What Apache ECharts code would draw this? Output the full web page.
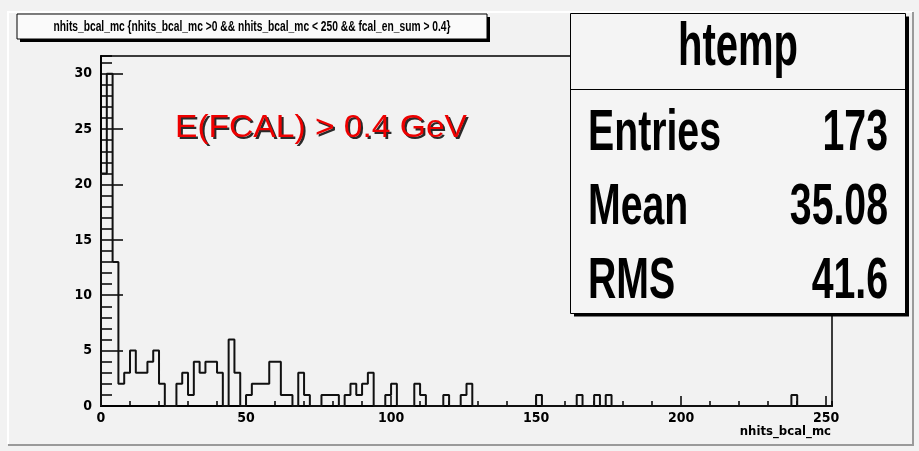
<!DOCTYPE html>
<html>
<head>
<meta charset="utf-8">
<script src="https://cdn.jsdelivr.net/npm/echarts@6/dist/echarts.min.js"></script>
<style>
  html, body { margin: 0; padding: 0; background: #f2f2f2; }
  #main { width: 919px; height: 451px; }
</style>
</head>
<body>
<div id="main"></div>
<script>
// histogram htemp: bins of width 2 from 0 to 252
var binWidth = 2;
var xMin = 0, xMax = 252;
var yMax = 31.6;
var counts = [
    21, 30, 13, 2, 3, 5, 3, 3, 4, 5,
    2, 0, 0, 2, 3, 1, 4, 3, 4, 4,
    3, 0, 6, 3, 0, 1, 2, 2, 2, 4,
    4, 1, 1, 0, 3, 1, 0, 0, 1, 1,
    1, 0, 1, 2, 1, 2, 3, 0, 0, 1,
    2, 0, 0, 0, 2, 1, 0, 0, 0, 1,
    0, 0, 1, 2, 0, 0, 0, 0, 0, 0,
    0, 0, 0, 0, 0, 1, 0, 0, 0, 0,
    0, 0, 1, 0, 0, 1, 0, 1, 0, 0,
    0, 0, 0, 0, 0, 0, 0, 0, 0, 0,
    0, 0, 0, 0, 0, 0, 0, 0, 0, 0,
    0, 0, 0, 0, 0, 0, 0, 0, 0, 1,
    0, 0, 0, 0, 0, 0
];
var titleText = 'nhits_bcal_mc {nhits_bcal_mc >0 && nhits_bcal_mc < 250 && fcal_en_sum > 0.4}';
var xTitle = 'nhits_bcal_mc';
var cutText = 'E(FCAL) > 0.4 GeV';
var statsName = 'htemp';
var statsLabels = ['Entries', 'Mean', 'RMS'];
var statsValues = ['173', '35.08', '41.6'];

var ctx = document.createElement('canvas').getContext('2d');
function fitScale(text, font, width) {
    ctx.font = font;
    return width / ctx.measureText(text).width;
}

function histPoints() {
    var pts = [[xMin, 0]];
    for (var i = 0; i < counts.length; i++) {
        pts.push([xMin + i * binWidth, counts[i]]);
    }
    pts.push([xMin + counts.length * binWidth, 0]);
    return pts;
}

var labelFont = '"Liberation Sans Narrow", "DejaVu Sans Condensed", "Liberation Sans", sans-serif';
var bigFont = 'bold 58px "Liberation Sans"';
var rowScale = fitScale('Entries', bigFont, 133);
var nameFont = 'bold 62px "Liberation Sans"';
var nameScale = fitScale(statsName, nameFont, 120);
var titleFont = 'bold 15px "Liberation Sans"';
var titleScale = fitScale(titleText, titleFont, 397);
var cutFont = '32px "Liberation Sans"';
var cutScale = fitScale(cutText, cutFont, 292);

var statsGraphics = [];
var rowY = [134, 208, 282];
for (var r = 0; r < statsLabels.length; r++) {
    statsGraphics.push({
        type: 'text', x: 588, y: rowY[r], scaleX: rowScale, z: 12,
        style: { text: statsLabels[r], font: bigFont, fill: '#000', align: 'left', verticalAlign: 'middle' }
    });
    statsGraphics.push({
        type: 'text', x: 888, y: rowY[r], scaleX: rowScale, z: 12,
        style: { text: statsValues[r], font: bigFont, fill: '#000', align: 'right', verticalAlign: 'middle' }
    });
}

var chart = echarts.init(document.getElementById('main'));
var option = {
    backgroundColor: '#f2f2f2',
    animation: false,
    grid: {
        left: 101, top: 56, right: 87, bottom: 45,
        show: true, borderColor: '#000', borderWidth: 1.5, backgroundColor: 'transparent'
    },
    xAxis: [{
        type: 'value', min: xMin, max: xMax, interval: 50, position: 'bottom',
        axisLine: { show: true, onZero: false, lineStyle: { color: '#000', width: 2 } },
        axisTick: { show: true, inside: true, length: 10, lineStyle: { color: '#000', width: 1.5 } },
        axisLabel: { showMaxLabel: false, margin: 5, color: '#000', fontFamily: labelFont, fontWeight: 'bold', fontSize: 14 },
        splitLine: { show: false }
    }, {
        type: 'value', min: xMin, max: xMax, interval: 10, position: 'bottom', offset: 0,
        axisLine: { show: false, onZero: false },
        axisTick: { show: true, inside: true, length: 5, lineStyle: { color: '#000', width: 1.5 } },
        axisLabel: { show: false },
        splitLine: { show: false }
    }],
    yAxis: [{
        type: 'value', min: 0, max: yMax, interval: 5, position: 'left',
        axisLine: { show: true, onZero: false, lineStyle: { color: '#000', width: 2 } },
        axisTick: { show: true, inside: true, length: 22, lineStyle: { color: '#000', width: 1.5 } },
        axisLabel: { showMaxLabel: false, margin: 9, color: '#000', fontFamily: labelFont, fontWeight: 'bold', fontSize: 14 },
        splitLine: { show: false }
    }, {
        type: 'value', min: 0, max: yMax, interval: 1, position: 'left', offset: 0,
        axisLine: { show: false, onZero: false },
        axisTick: { show: true, inside: true, length: 11, lineStyle: { color: '#000', width: 1.5 } },
        axisLabel: { show: false },
        splitLine: { show: false }
    }],
    series: [{
        type: 'line',
        xAxisIndex: 0, yAxisIndex: 0,
        step: 'end',
        symbol: 'none',
        data: histPoints(),
        lineStyle: { color: '#111', width: 2 },
        z: 5
    }, {
        // same histogram on the minor-tick axes so they get an extent
        type: 'line',
        xAxisIndex: 1, yAxisIndex: 1,
        step: 'end',
        symbol: 'none',
        silent: true,
        data: histPoints(),
        lineStyle: { opacity: 0 },
        z: 1
    }],
    graphic: [
        // canvas bevel
        { type: 'polyline', shape: { points: [[8, 444], [8, 12], [913, 12]] }, style: { stroke: '#ffffff', lineWidth: 2, fill: null }, z: 1 },
        { type: 'polyline', shape: { points: [[8, 445], [913, 445], [913, 12]] }, style: { stroke: '#9a9a9a', lineWidth: 2, fill: null }, z: 1 },
        // title box with shadow
        { type: 'rect', shape: { x: 20, y: 17, width: 470, height: 25 }, style: { fill: '#000' }, z: 10 },
        { type: 'rect', shape: { x: 17, y: 14, width: 470, height: 25 }, style: { fill: '#fafafa', stroke: '#000', lineWidth: 1 }, z: 11 },
        { type: 'text', x: 252, y: 27, scaleX: titleScale, z: 12,
          style: { text: titleText, font: titleFont, fill: '#000', align: 'center', verticalAlign: 'middle' } },
        // cut label: dark copy underneath as a shadow
        { type: 'text', x: 177, y: 130, scaleX: cutScale, z: 11,
          style: { text: cutText, font: cutFont, fill: '#2a2a2a', align: 'left', verticalAlign: 'middle' } },
        { type: 'text', x: 175, y: 128, scaleX: cutScale, z: 12,
          style: { text: cutText, font: cutFont, fill: '#ee0000', align: 'left', verticalAlign: 'middle' } },
        // x title
        { type: 'text', x: 831, y: 432, z: 12,
          style: { text: xTitle, font: 'bold 13px ' + labelFont, fill: '#000', align: 'right', verticalAlign: 'middle' } },
        // stats box
        { type: 'rect', shape: { x: 574, y: 16.5, width: 335, height: 300 }, style: { fill: '#000' }, z: 10 },
        { type: 'rect', shape: { x: 570.5, y: 13.5, width: 335, height: 300 }, style: { fill: '#f4f4f4', stroke: '#000', lineWidth: 1 }, z: 11 },
        { type: 'line', shape: { x1: 570.5, y1: 89.5, x2: 905.5, y2: 89.5 }, style: { stroke: '#000', lineWidth: 1 }, z: 12 },
        { type: 'text', x: 738, y: 48, scaleX: nameScale, z: 12,
          style: { text: statsName, font: nameFont, fill: '#000', align: 'center', verticalAlign: 'middle' } }
    ].concat(statsGraphics)
};
chart.setOption(option);
</script>
</body>
</html>
